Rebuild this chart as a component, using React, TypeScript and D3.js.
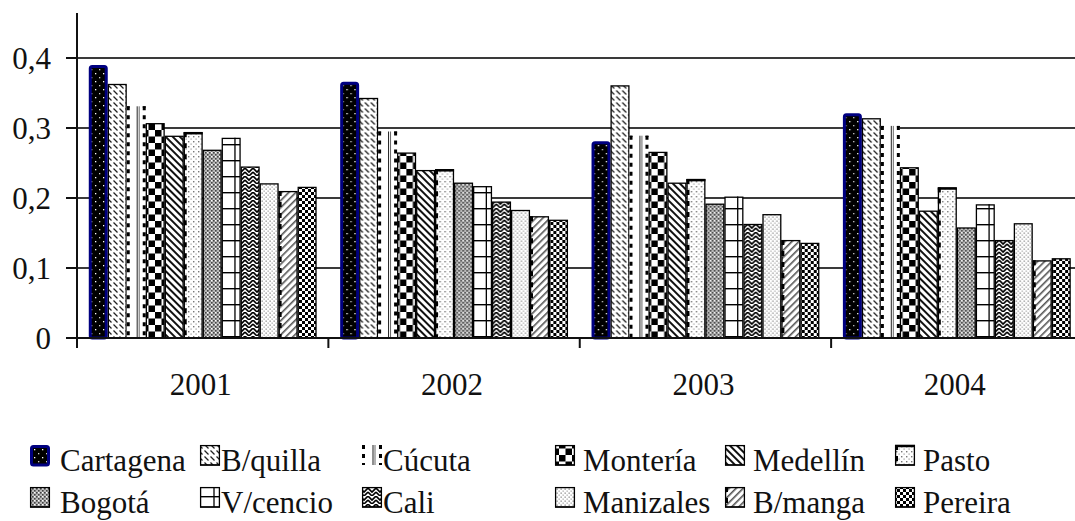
import React from "react";
import * as d3 from "d3";

// Years on the category axis
const years = ["2001", "2002", "2003", "2004"];

// Cities, in the order the bars are drawn within each year
const cities = [
  "Cartagena", "B/quilla", "Cúcuta", "Montería", "Medellín", "Pasto",
  "Bogotá", "V/cencio", "Cali", "Manizales", "B/manga", "Pereira",
];

// Values per city, one per year
const cartagena = [0.39, 0.366, 0.281, 0.321];
const bquilla = [0.363, 0.343, 0.361, 0.314];
const cucuta = [0.331, 0.295, 0.289, 0.303];
const monteria = [0.307, 0.265, 0.266, 0.244];
const medellin = [0.289, 0.24, 0.222, 0.182];
const pasto = [0.294, 0.241, 0.227, 0.215];
const bogota = [0.269, 0.222, 0.192, 0.158];
const vcencio = [0.286, 0.217, 0.202, 0.191];
const cali = [0.245, 0.195, 0.163, 0.14];
const manizales = [0.221, 0.183, 0.177, 0.164];
const bmanga = [0.21, 0.174, 0.14, 0.111];
const pereira = [0.216, 0.169, 0.136, 0.114];

const seriesValues = [
  cartagena, bquilla, cucuta, monteria, medellin, pasto,
  bogota, vcencio, cali, manizales, bmanga, pereira,
];

const yTicks = [0, 0.1, 0.2, 0.3, 0.4];
const yTickLabels = ["0", "0,1", "0,2", "0,3", "0,4"];

const W = 1075;
const H = 521;
const FONT = "Liberation Serif, DejaVu Serif, Times New Roman, serif";

const x0 = d3.scaleBand<string>().domain(years).range([77, 1082.5]).padding(0);
const x1 = d3
  .scaleBand<string>()
  .domain(cities)
  .range([0, x0.bandwidth()])
  .paddingInner(0)
  .paddingOuter(0.62);
const y = d3.scaleLinear().domain([0, 0.4]).range([338, 58]);

const fmt = d3.format(".1f");

// pattern ids per city
const fills = [
  "url(#p-cartagena)", "url(#p-bquilla)", "#fff", "url(#p-monteria)",
  "url(#p-medellin)", "url(#p-pasto)", "url(#p-bogota)", "url(#p-vcencio)",
  "url(#p-cali)", "url(#p-manizales)", "url(#p-bmanga)", "url(#p-pereira)",
];

// Legend layout: columns of swatches and their text
const legendSwatchX = [30, 200, 362, 555, 725, 895];
const legendTextX = [60, 221, 383, 583, 753, 923];
const legendRowY = [445, 487];

const textStyle: React.CSSProperties = { fontFamily: FONT, fontSize: 31, fill: "#111" };

function Patterns() {
  return (
    <defs>
      <pattern id="p-cartagena" patternUnits="userSpaceOnUse" width="8" height="8">
        <rect width="8" height="8" fill="#000" />
        <rect x="2" y="1" width="1.3" height="1.3" fill="#fff" />
        <rect x="6" y="5" width="1.3" height="1.3" fill="#ccc" />
      </pattern>
      <pattern id="p-bquilla" patternUnits="userSpaceOnUse" width="6" height="6">
        <rect width="6" height="6" fill="#fff" />
        <path d="M0.5,0.5 L4.5,4.5" stroke="#222" strokeWidth="1.3" />
      </pattern>
      <pattern id="p-monteria" patternUnits="userSpaceOnUse" width="13" height="13">
        <rect width="13" height="13" fill="#fff" />
        <rect x="0" y="0" width="6.5" height="6.5" fill="#000" />
        <rect x="6.5" y="6.5" width="6.5" height="6.5" fill="#000" />
      </pattern>
      <pattern
        id="p-medellin"
        patternUnits="userSpaceOnUse"
        width="5"
        height="5"
        patternTransform="rotate(-45)"
      >
        <rect width="5" height="5" fill="#fff" />
        <rect width="2" height="5" fill="#111" />
      </pattern>
      <pattern id="p-pasto" patternUnits="userSpaceOnUse" width="5" height="5">
        <rect width="5" height="5" fill="#fff" />
        <rect x="1" y="1" width="1.4" height="1.4" fill="#777" />
        <rect x="3.5" y="3.5" width="1.2" height="1.2" fill="#999" />
      </pattern>
      <pattern id="p-bogota" patternUnits="userSpaceOnUse" width="4" height="4">
        <rect width="4" height="4" fill="#b8b8b8" />
        <rect x="0" y="0" width="1.6" height="1.6" fill="#444" />
        <rect x="2" y="2" width="1.6" height="1.6" fill="#444" />
        <rect x="2" y="0" width="1.2" height="1.2" fill="#fff" />
      </pattern>
      <pattern id="p-vcencio" patternUnits="userSpaceOnUse" width="20" height="16">
        <rect width="20" height="16" fill="#fff" />
        <rect x="0" y="0" width="20" height="1.4" fill="#000" />
      </pattern>
      <pattern id="p-cali" patternUnits="userSpaceOnUse" width="8" height="8">
        <rect width="8" height="8" fill="#fff" />
        <path
          d="M0,0 L4,4 L8,0 M0,4 L4,8 L8,4"
          stroke="#000"
          strokeWidth="1.6"
          fill="none"
        />
      </pattern>
      <pattern id="p-manizales" patternUnits="userSpaceOnUse" width="4" height="4">
        <rect width="4" height="4" fill="#fff" />
        <rect x="0.5" y="0.5" width="1.3" height="1.3" fill="#888" />
        <rect x="2.5" y="2.5" width="1.3" height="1.3" fill="#aaa" />
      </pattern>
      <pattern
        id="p-bmanga"
        patternUnits="userSpaceOnUse"
        width="5"
        height="5"
        patternTransform="rotate(45)"
      >
        <rect width="5" height="5" fill="#fff" />
        <rect width="1.6" height="5" fill="#555" />
      </pattern>
      <pattern id="p-pereira" patternUnits="userSpaceOnUse" width="6" height="6">
        <rect width="6" height="6" fill="#fff" />
        <rect x="0" y="0" width="3" height="3" fill="#000" />
        <rect x="3" y="3" width="3" height="3" fill="#000" />
      </pattern>
    </defs>
  );
}

// One bar (or legend swatch) with the extra strokes each city's style uses
function Mark({ ci, x, top, w, h }: { ci: number; x: number; top: number; w: number; h: number }) {
  const city = cities[ci];
  if (city === "Cartagena") {
    return (
      <rect
        x={x + 1.5}
        y={top + 1.5}
        width={w - 3}
        height={h - 1.5}
        rx={2}
        fill={fills[ci]}
        stroke="#000080"
        strokeWidth={3}
      />
    );
  }
  if (city === "Cúcuta") {
    return (
      <g>
        <rect x={x} y={top} width={w} height={h} fill="#fff" />
        <line x1={x + 1.5} x2={x + 1.5} y1={top} y2={top + h} stroke="#000" strokeWidth={3} strokeDasharray="4,5" />
        <line x1={x + w * 0.55} x2={x + w * 0.55} y1={top} y2={top + h} stroke="#222" strokeWidth={1} />
        <line x1={x + w * 0.55 + 2} x2={x + w * 0.55 + 2} y1={top} y2={top + h} stroke="#666" strokeWidth={1} />
        <line x1={x + w - 1.5} x2={x + w - 1.5} y1={top} y2={top + h} stroke="#000" strokeWidth={3} strokeDasharray="4,5" />
        <line x1={x} x2={x + 3} y1={top + 0.7} y2={top + 0.7} stroke="#000" strokeWidth={1.4} />
        <line x1={x + w - 3} x2={x + w} y1={top + 0.7} y2={top + 0.7} stroke="#000" strokeWidth={1.4} />
      </g>
    );
  }
  const dashedLeft = city === "Pasto" || city === "B/manga";
  return (
    <g>
      <rect x={x + 0.6} y={top + 0.6} width={w - 1.2} height={h - 0.6} fill={fills[ci]} stroke="#000" strokeWidth={1.3} />
      {dashedLeft && (
        <line x1={x + 1.5} x2={x + 1.5} y1={top} y2={top + h} stroke="#000" strokeWidth={3} strokeDasharray="5,6" />
      )}
      {city === "Pasto" && (
        <line x1={x} x2={x + w} y1={top + 1} y2={top + 1} stroke="#000" strokeWidth={2.5} />
      )}
      {city === "V/cencio" && (
        <line x1={x + w * 0.7} x2={x + w * 0.7} y1={top} y2={top + h} stroke="#000" strokeWidth={1.3} />
      )}
    </g>
  );
}

export default function App() {
  const bw = x1.bandwidth();
  return (
    <div style={{ position: "absolute", left: 0, top: 0 }}>
      <svg width={W} height={H} style={{ display: "block", background: "#fff" }}>
        <Patterns />
        {/* horizontal gridlines */}
        {yTicks.slice(1).map((t) => (
          <line key={t} x1={77} x2={W} y1={y(t)} y2={y(t)} stroke="#3a3a3a" strokeWidth={2} />
        ))}
        {/* bars */}
        {years.map((yr, yi) => (
          <g key={yr} transform={`translate(${x0(yr)},0)`}>
            {cities.map((c, ci) => {
              const v = seriesValues[ci][yi];
              const top = y(v);
              return <Mark key={c} ci={ci} x={x1(c)!} top={top} w={bw} h={y(0) - top} />;
            })}
          </g>
        ))}
        {/* y axis */}
        <line x1={77} x2={77} y1={13} y2={348} stroke="#111" strokeWidth={2} />
        {yTicks.map((t, i) => (
          <g key={t}>
            <line x1={66} x2={77} y1={y(t)} y2={y(t)} stroke="#111" strokeWidth={2} />
            <text x={51} y={y(t)} dy="0.35em" textAnchor="end" style={textStyle}>
              {yTickLabels[i] ?? fmt(t)}
            </text>
          </g>
        ))}
        {/* x axis */}
        <line x1={66} x2={W} y1={y(0)} y2={y(0)} stroke="#111" strokeWidth={2} />
        {years.map((yr) => (
          <g key={yr}>
            <line x1={x0(yr)!} x2={x0(yr)!} y1={y(0)} y2={348} stroke="#111" strokeWidth={2} />
            <text
              x={x0(yr)! + x0.bandwidth() / 2 - 2}
              y={395}
              textAnchor="middle"
              style={textStyle}
            >
              {yr}
            </text>
          </g>
        ))}
        {/* legend */}
        {cities.map((c, ci) => {
          const row = Math.floor(ci / 6);
          const col = ci % 6;
          const sx = legendSwatchX[col];
          const sy = legendRowY[row];
          return (
            <g key={c}>
              <Mark ci={ci} x={sx} top={sy} w={20} h={20} />
              {cities[ci] !== "Cartagena" && cities[ci] !== "Cúcuta" && (
                <line x1={sx} x2={sx + 20} y1={sy + 20} y2={sy + 20} stroke="#000" strokeWidth={1.3} />
              )}
              <text x={legendTextX[col]} y={sy + 26} style={textStyle}>
                {c}
              </text>
            </g>
          );
        })}
      </svg>
    </div>
  );
}
